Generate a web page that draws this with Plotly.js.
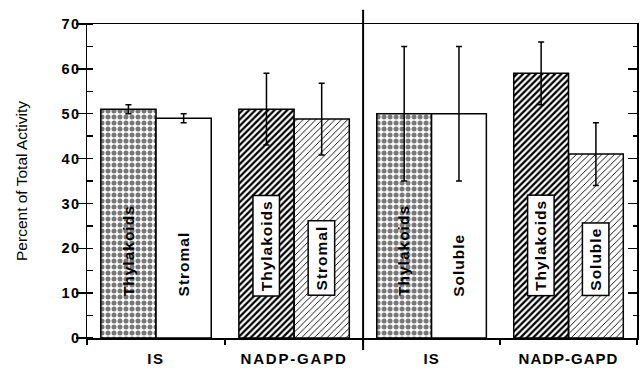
<!DOCTYPE html>
<html><head><meta charset="utf-8">
<script src="https://cdn.plot.ly/plotly-3.0.1.min.js"></script>
<style>
html,body{margin:0;padding:0;background:#fff}
#chart{width:643px;height:368px}
text{letter-spacing:1px}
.xtick text{letter-spacing:1.8px}
.ytick text{letter-spacing:1.5px}
text.ytitle, .g-ytitle text{letter-spacing:0 !important}
</style>
</head><body><div id="chart"></div>
<script>
// ---- data ----
const categories = ['IS', 'NADP-GAPD'];
// Left panel: thylakoids vs stromal
const leftThylakoids = [51, 51];
const leftThylakoidsErr = [1, 8];
const leftStromal = [49, 48.8];
const leftStromalErr = [1, 8];
// Right panel: thylakoids vs soluble
const rightThylakoids = [50, 59];
const rightThylakoidsErr = [15, 7];
const rightSoluble = [50, 41];
const rightSolubleErr = [15, 7];
const yTickVals = [0, 10, 20, 30, 40, 50, 60, 70];
const yTitle = 'Percent of Total Activity';
const leftLabels = ['Thylakoids', 'Stromal'];
const rightLabels = ['Thylakoids', 'Soluble'];

// ---- styles ----
const FONT = '"Liberation Sans", Arial, Helvetica, sans-serif';
const thylPattern = {shape: ['.', '/'], fgcolor: ['#777777', '#000000'], size: [6, 4.5], solidity: [0.55, 0.5], fillmode: 'replace'};
const otherPattern = {shape: ['', '/'], fgcolor: ['#000000', '#000000'], size: [5, 4.5], solidity: [0.2, 0.2], fillmode: 'replace'};
const errStyle = (arr) => ({type: 'data', array: arr, visible: true, color: '#000', thickness: 1.5, width: 3});
const barLine = {color: '#000', width: 1.5};

function bar(x, y, err, pattern, xa, ya) {
  return {type: 'bar', x: x, y: y, xaxis: xa, yaxis: ya,
    marker: {color: '#ffffff', line: barLine, pattern: pattern},
    error_y: errStyle(err), hoverinfo: 'skip', showlegend: false};
}

const data = [
  bar(categories, leftThylakoids, leftThylakoidsErr, thylPattern, 'x', 'y'),
  bar(categories, leftStromal, leftStromalErr, otherPattern, 'x', 'y'),
  bar(categories, rightThylakoids, rightThylakoidsErr, thylPattern, 'x2', 'y2'),
  bar(categories, rightSoluble, rightSolubleErr, otherPattern, 'x2', 'y2')
];

const split = 0.502;
const xCommon = {
  type: 'category', range: [-0.5, 1.5], showline: true, linecolor: '#000', linewidth: 1.5,
  mirror: true, ticks: 'outside', tickson: 'boundaries', ticklen: 5, tickwidth: 1.5, tickcolor: '#000',
  showgrid: false, zeroline: false, fixedrange: true, ticklabelstandoff: 6,
  tickfont: {family: FONT, size: 15, color: '#000', weight: 'bold'}
};

const annotations = [];
function addLabels(xa, ya, labels, boxedIndex, shift) {
  categories.forEach((c, ci) => {
    labels.forEach((lab, li) => {
      const boxed = ci === boxedIndex;
      annotations.push({
        xref: xa, yref: ya, x: c, y: 9.3, xshift: li === 0 ? -shift : shift,
        yanchor: 'bottom', xanchor: 'center', text: lab, textangle: -90, showarrow: false,
        font: {family: FONT, size: 15.5, color: '#000', weight: 'bold'},
        bgcolor: boxed ? '#ffffff' : 'rgba(0,0,0,0)',
        bordercolor: boxed ? '#000' : 'rgba(0,0,0,0)', borderwidth: boxed ? 1.5 : 0, borderpad: boxed ? 4 : 0
      });
    });
  });
}
addLabels('x', 'y', leftLabels, 1, 27.6);
addLabels('x2', 'y2', rightLabels, 1, 27.4);

const layout = {
  width: 643, height: 368,
  margin: {l: 87, r: 6, t: 24, b: 30},
  paper_bgcolor: '#fff', plot_bgcolor: 'rgba(0,0,0,0)',
  barmode: 'group', bargap: 0.2, bargroupgap: 0,
  showlegend: false,
  font: {family: FONT, color: '#000'},
  xaxis: Object.assign({}, xCommon, {domain: [0, split], anchor: 'y'}),
  xaxis2: Object.assign({}, xCommon, {domain: [split, 1], anchor: 'y2'}),
  yaxis: {
    range: [0, 70], tickvals: yTickVals, ticktext: yTickVals.map(String),
    ticks: 'outside', ticklen: 10, tickwidth: 1.5, tickcolor: '#000',
    showline: true, linecolor: '#000', linewidth: 1.5, showgrid: false, zeroline: false,
    minor: {ticks: 'inside', dtick: 5, tick0: 0, ticklen: 6, tickwidth: 1.5, tickcolor: '#000', showgrid: false},
    tickfont: {family: FONT, size: 14.5, color: '#000', weight: 'bold'}, ticklabelstandoff: -8,
    title: {text: yTitle, font: {family: FONT, size: 15.5, color: '#000'}, standoff: 30},
    anchor: 'x', fixedrange: true
  },
  yaxis2: {
    range: [0, 70], tickvals: yTickVals, showticklabels: false, side: 'right', anchor: 'x2',
    ticks: 'inside', ticklen: 9, tickwidth: 1.5, tickcolor: '#000',
    showline: true, linecolor: '#000', linewidth: 1.5, showgrid: false, zeroline: false,
    minor: {ticks: 'inside', dtick: 5, tick0: 0, ticklen: 4, tickwidth: 1.5, tickcolor: '#000', showgrid: false},
    fixedrange: true
  },
  shapes: [
    {type: 'line', xref: 'paper', yref: 'paper', x0: split, x1: split, y0: -0.038, y1: 1.045,
     line: {color: '#000', width: 2}}
  ],
  annotations: annotations
};

Plotly.newPlot('chart', data, layout, {displayModeBar: false, staticPlot: true});
</script>
</body></html>
